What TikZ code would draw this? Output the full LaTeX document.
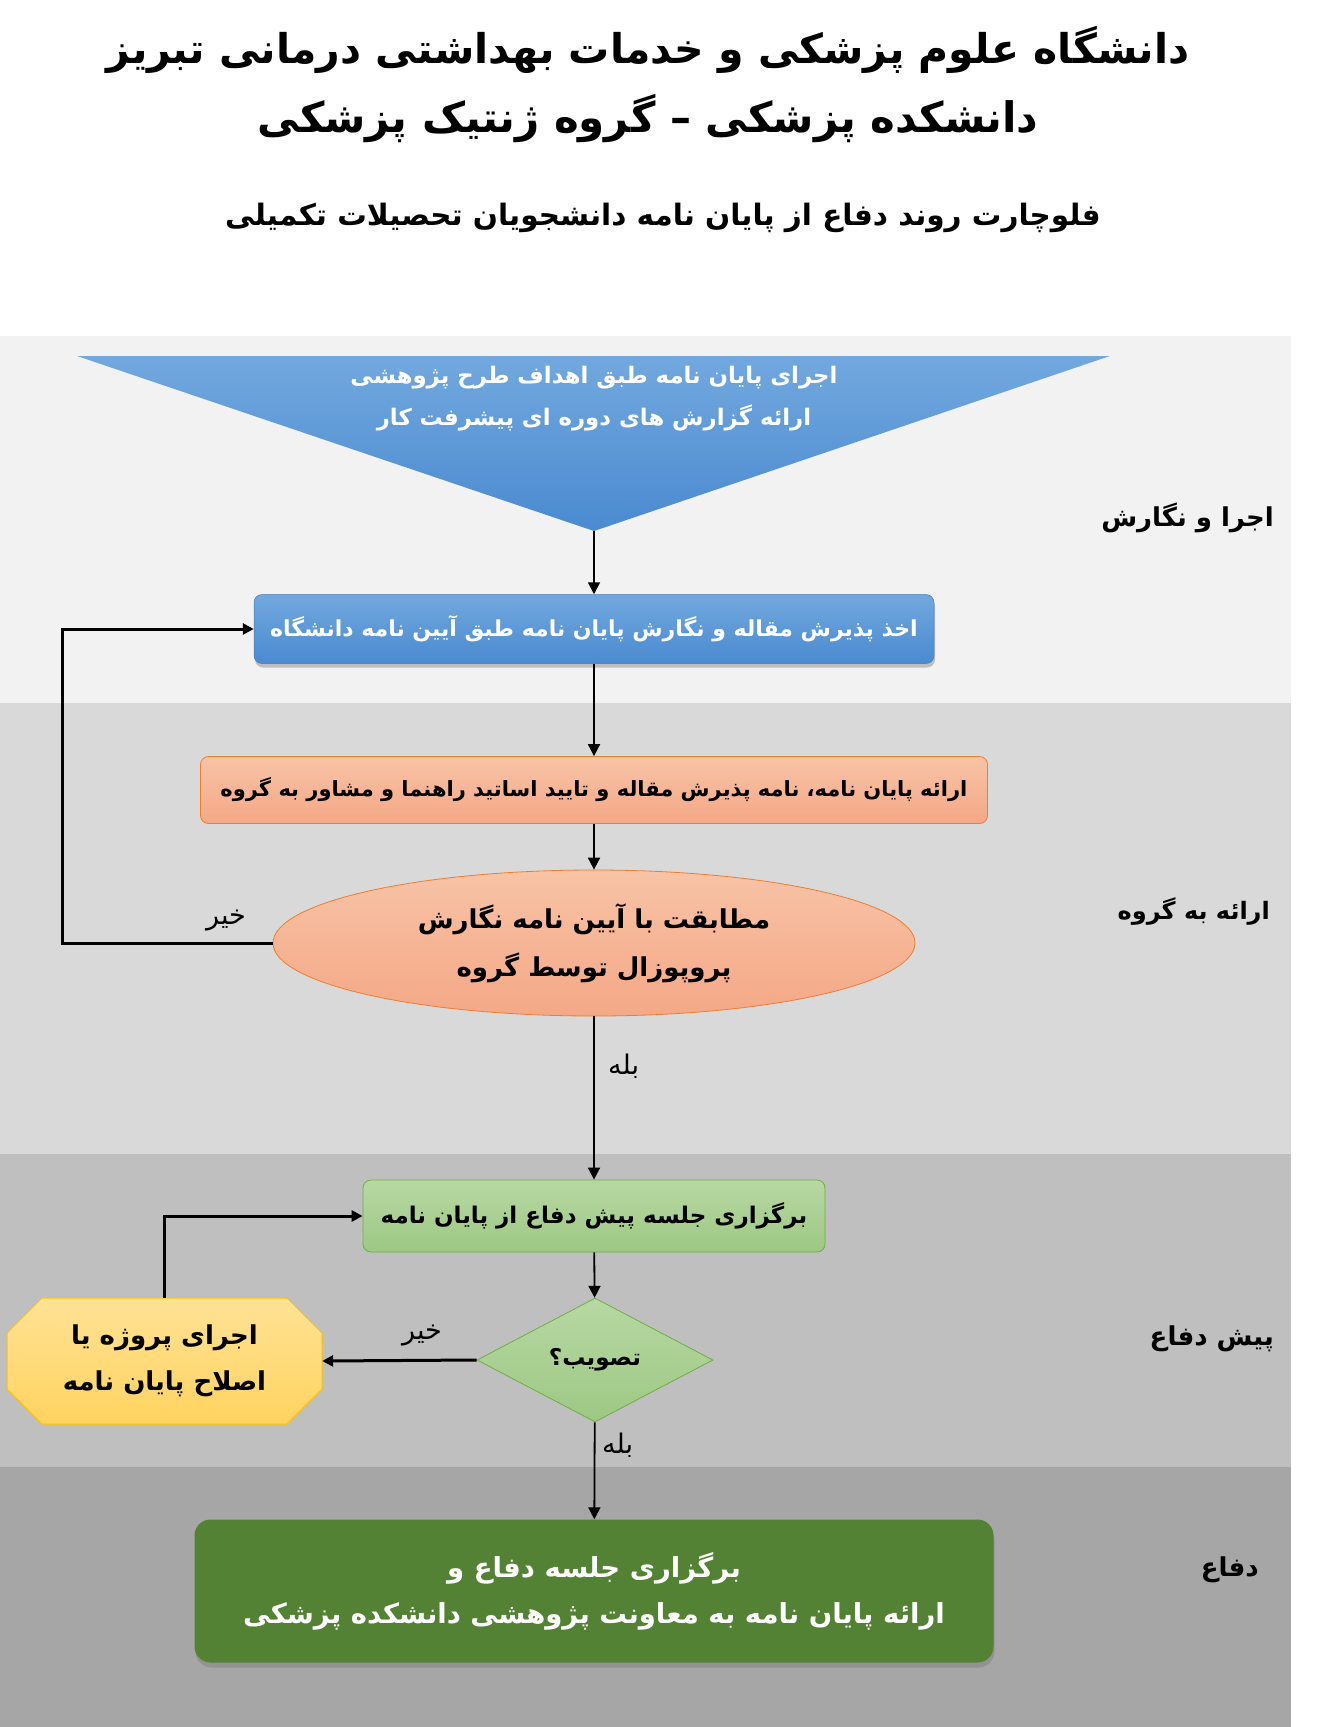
\documentclass[tikz,border=0pt]{standalone}
\usepackage{fontspec}
\usetikzlibrary{shapes.geometric,shadows,arrows.meta}
\TeXXeTstate=1
\newfontfamily\fa[Script=Arabic]{DejaVu Sans}
\newcommand{\rtl}[1]{\beginR #1\endR}
\definecolor{bandA}{HTML}{F2F2F2}
\definecolor{bandB}{HTML}{D9D9D9}
\definecolor{bandC}{HTML}{BFBFBF}
\definecolor{bandD}{HTML}{A6A6A6}
\definecolor{blueT}{HTML}{72A8DE}
\definecolor{blueB}{HTML}{4A8AD0}
\definecolor{salT}{HTML}{F8C3A6}
\definecolor{salB}{HTML}{F4A886}
\definecolor{salD}{HTML}{ED7D31}
\definecolor{grT}{HTML}{B7D8A3}
\definecolor{grB}{HTML}{9DC883}
\definecolor{grD}{HTML}{70AD47}
\definecolor{yeT}{HTML}{FFE295}
\definecolor{yeB}{HTML}{FFD35F}
\definecolor{yeD}{HTML}{FFC000}
\definecolor{dkG}{HTML}{548235}
\tikzset{
  arr/.style={-{Triangle[length=12pt,width=12pt]}, line width=1.8pt},
  fb/.style={-{Triangle[length=11pt,width=11pt]}, line width=3pt},
  lab/.style={font=\fa\fontsize{27}{30}\selectfont, inner sep=0pt},
  side/.style={font=\fa\bfseries\fontsize{26}{30}\selectfont, anchor=east, inner sep=0pt},
  bluebox/.style={rectangle, rounded corners=8pt, top color=blueT, bottom color=blueB, draw=blueB!90!black, line width=0.5pt, text=white,
    font=\fa\bfseries\fontsize{22}{26}\selectfont, drop shadow={shadow xshift=1pt, shadow yshift=-4pt, opacity=0.45}},
  salbox/.style={rectangle, rounded corners=8pt, top color=salT, bottom color=salB, draw=salD, line width=0.8pt,
    font=\fa\bfseries\fontsize{21}{25}\selectfont},
  greenbox/.style={rectangle, rounded corners=8pt, top color=grT, bottom color=grB, draw=grD, line width=0.8pt,
    font=\fa\bfseries\fontsize{23}{26}\selectfont},
  darkbox/.style={rectangle, rounded corners=16pt, fill=dkG, text=white, align=center,
    font=\fa\bfseries\fontsize{27.5}{46}\selectfont, drop shadow={shadow xshift=1pt, shadow yshift=-5pt, opacity=0.5}}
}
\begin{document}
\begin{tikzpicture}[x=1pt,y=-1pt]
\useasboundingbox (0,0) rectangle (1324,1727);
\fill[white] (0,0) rectangle (1324,1727);
% bands
\fill[bandA] (0,336) rectangle (1291,703);
\fill[bandB] (0,703) rectangle (1291,1154);
\fill[bandC] (0,1154) rectangle (1291,1467);
\fill[bandD] (0,1467) rectangle (1291,1727);
% titles
\node[font=\fa\bfseries\fontsize{41}{46}\selectfont] (t1) at (648,50) {\rtl{دانشگاه علوم پزشکی و خدمات بهداشتی درمانی تبریز}};
\node[font=\fa\bfseries\fontsize{42}{46}\selectfont] (t2) at (648,119) {\rtl{دانشکده پزشکی – گروه ژنتیک پزشکی}};
\node[font=\fa\bfseries\fontsize{29.5}{34}\selectfont] (t3) at (663,218) {\rtl{فلوچارت روند دفاع از پایان نامه دانشجویان تحصیلات تکمیلی}};
% side labels
\node[side] (s1) at (1274,518) {\rtl{اجرا و نگارش}};
\node[side, font=\fa\bfseries\fontsize{24}{30}\selectfont] (s2) at (1270,912) {\rtl{ارائه به گروه}};
\node[side] (s3) at (1274,1339) {\rtl{پیش دفاع}};
\node[side] (s4) at (1259,1570) {\rtl{دفاع}};
% triangle
\shade[top color=blueT, bottom color=blueB] (77,356) -- (1110,356) -- (594,531) -- cycle;
\coordinate (apex) at (594,531);
\node[text=white, align=center, font=\fa\bfseries\fontsize{22.8}{42}\selectfont] (tri) at (594,399)
  {\rtl{اجرای پایان نامه طبق اهداف طرح پژوهشی}\\ \rtl{ارائه گزارش های دوره ای پیشرفت کار}};
% nodes
\node[bluebox, minimum width=680pt, minimum height=69pt] (b1) at (594,629) {\rtl{اخذ پذیرش مقاله و نگارش پایان نامه طبق آیین نامه دانشگاه}};
\node[salbox, minimum width=787pt, minimum height=67pt] (b2) at (594,790) {\rtl{ارائه پایان نامه، نامه پذیرش مقاله و تایید اساتید راهنما و مشاور به گروه}};
\node[ellipse, top color=salT, bottom color=salB, draw=salD, line width=0.8pt, minimum width=642pt, minimum height=146pt, inner sep=0pt,
  align=center, font=\fa\bfseries\fontsize{26}{48}\selectfont] (el) at (594,943)
  {\rtl{مطابقت با آیین نامه نگارش}\\ \rtl{پروپوزال توسط گروه}};
\node[greenbox, minimum width=462pt, minimum height=72pt] (b3) at (594,1216) {\rtl{برگزاری جلسه پیش دفاع از پایان نامه}};
\node[diamond, top color=grT, bottom color=grB, draw=grD, line width=0.8pt, minimum width=236pt, minimum height=124pt, inner sep=0pt,
  font=\fa\bfseries\fontsize{23}{26}\selectfont] (dm) at (595,1360) {\rtl{تصویب؟}};
% octagon
\shade[top color=yeT, bottom color=yeB, draw=yeD, line width=1pt]
  (42,1298) -- (287,1298) -- (322,1333) -- (322,1389) -- (287,1424) -- (42,1424) -- (7,1389) -- (7,1333) -- cycle;
\node[rectangle, minimum width=315pt, minimum height=126pt, inner sep=0pt, align=center,
  font=\fa\bfseries\fontsize{26}{46}\selectfont] (oc) at (164.5,1361)
  {\rtl{اجرای پروژه یا}\\ \rtl{اصلاح پایان نامه}};
\node[darkbox, minimum width=799pt, minimum height=143pt] (b4) at (594,1591)
  {\rtl{برگزاری جلسه دفاع و}\\ \rtl{ارائه پایان نامه به معاونت پژوهشی دانشکده پزشکی}};
% connectors
\draw[arr] (apex) -- (b1.north);
\draw[arr] (b1) -- (b2);
\draw[arr] (b2) -- (el);
\draw[fb] (el.west) -- ++(-210,0) |- (b1.west);
\node[lab] (no1) at (226,921) {\rtl{خیر}};
\draw[arr] (el) -- (b3);
\node[lab, anchor=west] (yes1) at (608,1066) {\rtl{بله}};
\draw[arr] (b3) -- (dm);
\draw[fb] (dm.west) -- (oc.east);
\node[lab] (no2) at (422,1336) {\rtl{خیر}};
\draw[fb] (oc.north) |- (b3.west);
\draw[arr] (dm) -- (b4);
\node[lab, anchor=west] (yes2) at (602,1445) {\rtl{بله}};
\end{tikzpicture}
\end{document}
